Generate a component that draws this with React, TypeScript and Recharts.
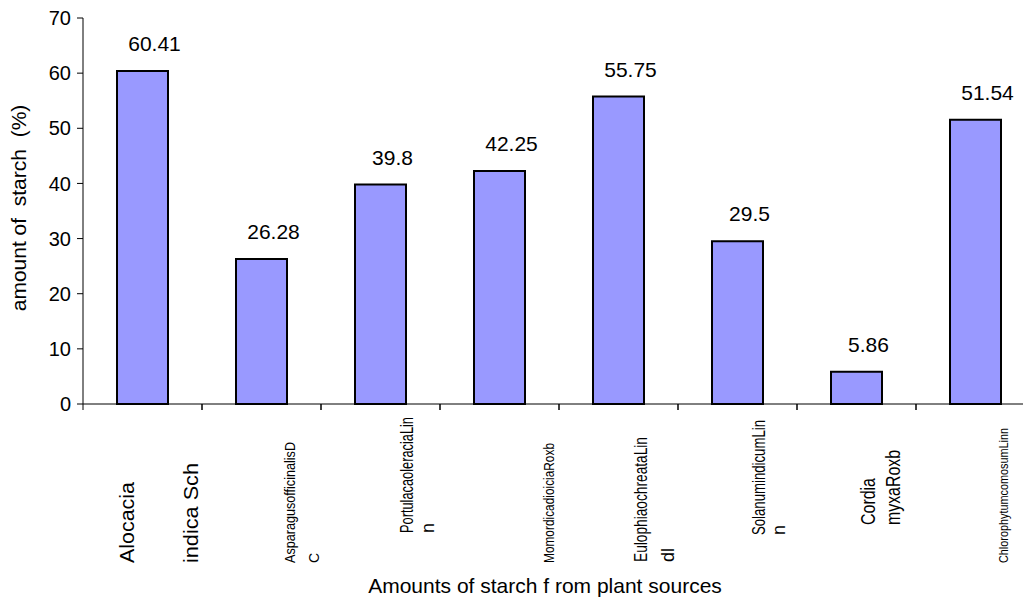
import { BarChart, Bar, XAxis, YAxis, LabelList } from 'recharts'

const plants = [
  'Alocacia indica Sch',
  'AsparagusofficinalisDC',
  'PortulacaoleraciaLinn',
  'MomordicadioiciaRoxb',
  'EulophiaochreataLindl',
  'SolanumindicumLinn',
  'Cordia myxaRoxb',
  'ChlorophytumcomosumLinn',
]
const starch = [60.41, 26.28, 39.8, 42.25, 55.75, 29.5, 5.86, 51.54]
const plantLabelLines = [
  ['Alocacia', 'indica Sch'],
  ['AsparagusofficinalisD', 'C'],
  ['PortulacaoleraciaLin', 'n'],
  ['MomordicadioiciaRoxb'],
  ['EulophiaochreataLin', 'dl'],
  ['SolanumindicumLin', 'n'],
  ['Cordia', 'myxaRoxb'],
  ['ChlorophytumcomosumLinn'],
]
const yTicks = [0, 10, 20, 30, 40, 50, 60, 70]

const data = plants.map((name, i) => ({ name, starch: starch[i] }))

const FONT = '"Liberation Sans", Arial, sans-serif'
const W = 1040
const H = 600
const M = { top: 18, right: 5, left: 0, bottom: 0 }
const Y_W = 83
const X_H = 196
const AXIS_Y = H - M.bottom - X_H
const HALF_BAND = (W - M.left - M.right - Y_W) / plants.length / 2

// rotated tick labels, quirky sizes like the original export
const tickLayout = [
  { size: 21, bottom: 563, dx: [-9, 55], len: [81, 100] },
  { size: 14, bottom: 563, dx: [33, 57], len: [121, 0] },
  { size: 18, bottom: 533, dx: [32, 53], len: [116, 0] },
  { size: 15, bottom: 563, dx: [54], len: [120] },
  { size: 18, bottom: 562, dx: [28, 55], len: [125, 0] },
  { size: 18, bottom: 535, dx: [27, 47], len: [115, 0] },
  { size: 21, bottom: 525, dx: [18, 43], len: [47, 75] },
  { size: 13, bottom: 563, dx: [32], len: [135] },
]

function PlantTick(props: any) {
  const { x, payload } = props
  const i = payload.index
  const lay = tickLayout[i]
  return (
    <g>
      <line x1={x - HALF_BAND} x2={x - HALF_BAND} y1={AXIS_Y} y2={AXIS_Y + 6} stroke="#000" />
      <line x1={x + HALF_BAND} x2={x + HALF_BAND} y1={AXIS_Y} y2={AXIS_Y + 6} stroke="#000" />
      {plantLabelLines[i].map((line, j) => {
        const tx = x + lay.dx[j]
        const len = lay.len[j]
        return (
          <text
            key={j}
            x={tx}
            y={lay.bottom}
            transform={`rotate(-90, ${tx}, ${lay.bottom})`}
            textAnchor="start"
            fontSize={lay.size}
            fontFamily={FONT}
            fill="#000"
            {...(len ? { textLength: len, lengthAdjust: 'spacingAndGlyphs' } : {})}
          >
            {line}
          </text>
        )
      })}
    </g>
  )
}

function ValueLabel(props: any) {
  const { x, y, width, value } = props
  return (
    <text x={x + width / 2 + 12} y={y - 20} textAnchor="middle" fontSize={21} fontFamily={FONT} fill="#000">
      {value}
    </text>
  )
}

function YTitle() {
  return (
    <text
      x={26}
      y={208}
      transform="rotate(-90, 26, 208)"
      textAnchor="middle"
      fontSize={21}
      fontFamily={FONT}
      fill="#000"
      style={{ whiteSpace: 'pre' }}
    >
      amount of  starch  (%)
    </text>
  )
}

function XTitle() {
  return (
    <text x={545} y={593} textAnchor="middle" fontSize={21} fontFamily={FONT} fill="#000" style={{ whiteSpace: 'pre' }}>
      Amounts of starch f rom plant sources
    </text>
  )
}

export default function App() {
  return (
    <div style={{ position: 'absolute', left: 0, top: 0, width: 1023, height: 600, overflow: 'hidden', background: '#fff' }}>
      <BarChart width={W} height={H} data={data} margin={M}>
        <XAxis
          dataKey="name"
          height={X_H}
          interval={0}
          tickLine={false}
          axisLine={{ stroke: '#000' }}
          tick={<PlantTick />}
          label={<XTitle />}
        />
        <YAxis
          width={Y_W}
          domain={[0, 70]}
          ticks={yTicks}
          interval={0}
          tickSize={6}
          tickMargin={6}
          axisLine={{ stroke: '#000' }}
          tickLine={{ stroke: '#000' }}
          tick={{ fill: '#000', fontSize: 20, fontFamily: FONT }}
          label={<YTitle />}
        />
        <Bar dataKey="starch" barSize={51} fill="#9999FF" stroke="#000" strokeWidth={2} isAnimationActive={false}>
          <LabelList dataKey="starch" content={<ValueLabel />} />
        </Bar>
      </BarChart>
    </div>
  )
}
